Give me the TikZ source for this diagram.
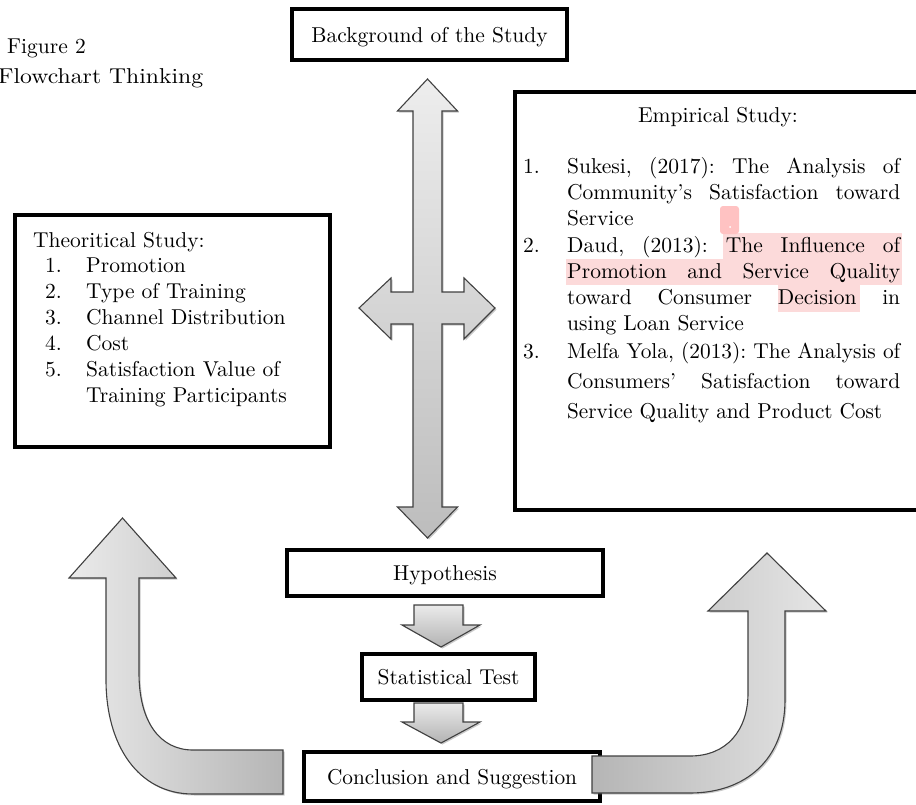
\documentclass[tikz,border=0pt]{standalone}
\usepackage{fontspec}
\setmainfont{lmroman10-regular}[Extension=.otf]
\usetikzlibrary{shadows}
\definecolor{hlpink}{HTML}{FCDADA}
\definecolor{mkpink}{HTML}{FFC2C2}
\frenchspacing
\begin{document}
\begin{tikzpicture}[x=1pt,y=-1pt,
  fs/.style={font=\fontsize{21.5}{26}\selectfont\frenchspacing},
  txt/.style={fs, inner sep=0pt, anchor=base west},
  box/.style={draw=black, line width=4.5pt, fill=white, fs, inner sep=0pt, text depth=0pt},
  garrow/.style={draw=black!75, line width=1.1pt, drop shadow={shadow xshift=1.5pt, shadow yshift=-1.5pt, opacity=0.35, fill=black!60}},
  hl/.style={fill=hlpink, draw=none}]
\useasboundingbox (0,0) rectangle (916,804);

% caption
\node[txt] (fig) at (7,53) {Figure 2};
\node[txt] (flow) at (-2,83) {\resizebox{205pt}{\height}{Flowchart Thinking}};

% boxes
\node[box, minimum width=275pt, minimum height=51pt] (bg) at (429.5,34.5) {Background of the Study};
\node[box, minimum width=315pt, minimum height=232pt] (theo) at (172.5,331) {};
\node[box, minimum width=404pt, minimum height=418pt] (emp) at (717,301) {};
\node[box, minimum width=316pt, minimum height=46pt] (hyp) at (445,573) {Hypothesis};
\node[box, minimum width=173pt, minimum height=46pt] (stat) at (448.5,677) {Statistical Test};
\node[box, minimum width=296pt, minimum height=49pt] (conc) at (452,776.5) {\resizebox{250pt}{\height}{Conclusion and Suggestion}};

% highlights
\fill[hl] (723,233) rectangle (902,259);
\fill[hl] (566,259) rectangle (902,285);
\fill[hl] (778,285) rectangle (860,312);
\fill[mkpink, rounded corners=3pt] (720,206) rectangle (739,234);
\fill[white] (730,227) circle (1pt);

% theoretical text
\node[txt] (th0) at (33,247) {Theoritical Study:};
\node[txt] (tn1) at (45,272) {1.};
\node[txt] (tt1) at (86,272) {Promotion};
\node[txt] (tn2) at (45,298) {2.};
\node[txt] (tt2) at (86,298) {Type of Training};
\node[txt] (tn3) at (45,324) {3.};
\node[txt] (tt3) at (86,324) {Channel Distribution};
\node[txt] (tn4) at (45,350) {4.};
\node[txt] (tt4) at (86,350) {Cost};
\node[txt] (tn5) at (45,376) {5.};
\node[txt] (tt5) at (86,376) {Satisfaction Value of};
\node[txt] (tt6) at (86,402) {Training Participants};

% empirical text
\node[fs, inner sep=0pt, anchor=base] (emh) at (718,122) {Empirical Study:};
\node[txt] (en1) at (523,173) {1.};
\node[txt] (e1) at (567,173) {\makebox[333pt][s]{Sukesi, (2017): The Analysis of}};
\node[txt] (e2) at (567,199) {\makebox[333pt][s]{Community's Satisfaction toward}};
\node[txt] (e3) at (567,225) {Service};
\node[txt] (en2) at (523,252) {2.};
\node[txt] (e4) at (567,252) {\makebox[333pt][s]{Daud, (2013): The Influence of}};
\node[txt] (e5) at (567,278) {\makebox[333pt][s]{Promotion and Service Quality}};
\node[txt] (e6) at (567,304) {\makebox[333pt][s]{toward Consumer Decision in}};
\node[txt] (e7) at (567,330) {using Loan Service};
\node[txt] (en3) at (523,358) {3.};
\node[txt] (e8) at (567,358) {\resizebox{333pt}{\height}{Melfa Yola, (2013): The Analysis of}};
\node[txt] (e9) at (567,388) {\makebox[333pt][s]{Consumers' Satisfaction toward}};
\node[txt] (e10) at (567,418) {\resizebox{315pt}{\height}{Service Quality and Product Cost}};

% cross arrow
\draw[garrow, top color=black!7, bottom color=black!26]
  (427.5,79) -- (457.5,111) -- (442,111) -- (442,292) -- (464,292) -- (464,278)
  -- (495,308) -- (464,339) -- (464,324) -- (442,324) -- (442,507) -- (457.5,507)
  -- (427.5,538) -- (397.5,507) -- (413,507) -- (413,324) -- (391,324) -- (391,339)
  -- (359,308) -- (391,278) -- (391,292) -- (413,292) -- (413,111) -- (397.5,111) -- cycle;

% small down arrows
\draw[garrow, top color=black!8, bottom color=black!30]
  (414,605) -- (463,605) -- (463,625) -- (480,625) -- (441,647) -- (402,625) -- (414,625) -- cycle;
\draw[garrow, top color=black!8, bottom color=black!30]
  (414,703) -- (463,703) -- (463,722) -- (480,722) -- (441,743) -- (402,722) -- (414,722) -- cycle;

% left curved arrow
\draw[garrow, left color=black!8, right color=black!29]
  (122.5,518) -- (176,578) -- (139,578) -- (139,673)
  .. controls (139,722) and (160,750) .. (193,750) -- (283,750) -- (283,794) -- (193,794)
  .. controls (138,794) and (106,745) .. (106,680) -- (106,578) -- (69,578) -- cycle;

% right curved arrow
\draw[garrow, left color=black!29, right color=black!10]
  (767,553) -- (826,611) -- (785,611) -- (785,700)
  .. controls (785,760) and (745,793) .. (690,793) -- (592,793) -- (592,756) -- (690,756)
  .. controls (727,756) and (748,730) .. (748,693) -- (748,611) -- (708,611) -- cycle;
\end{tikzpicture}
\end{document}
